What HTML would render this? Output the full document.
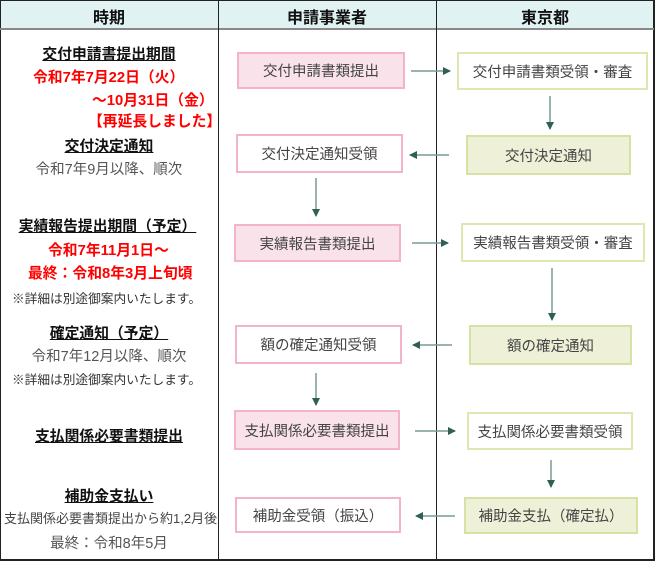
<!DOCTYPE html>
<html><head><meta charset="utf-8"><style>
body{margin:0;width:656px;height:562px;background:#fff;position:relative;overflow:hidden;font-family:"Liberation Sans","Noto Sans CJK JP",sans-serif;}
.a{position:absolute;}
.t{position:absolute;white-space:nowrap;}
.h{font-weight:bold;font-size:16px;color:#111;text-align:center;top:4px;}
.b{position:absolute;box-sizing:border-box;display:flex;align-items:center;justify-content:center;font-size:14.5px;color:#444;border:2px solid;}
.pk{background:#f9e2e9;border-color:#f2b4c6;}
.pw{background:#fff;border-color:#f2b4c6;}
.gw{background:#fff;border-color:#dde8b0;}
.gg{background:#eef1d8;border-color:#d6e2a4;}
.hd{font-weight:bold;font-size:14.8px;color:#111;text-decoration:underline;text-align:center;}
.rd{font-weight:bold;font-size:14.8px;color:#f00;}
.gy{font-size:14.5px;color:#555;text-align:center;}
.sm{font-size:12.7px;color:#333;}
</style></head><body>
<div class="a" style="left:0;top:0;width:654px;height:29px;background:#e1f2f2;"></div>
<div class="a" style="left:0;top:0;width:652px;height:558px;border:2px solid #222;border-width:1px 2px 2px 1px;"></div>
<div class="a" style="left:0;top:28px;width:654px;height:2px;background:#888;"></div>
<div class="a" style="left:218px;top:0;width:1px;height:560px;background:#222;"></div>
<div class="a" style="left:436px;top:0;width:1px;height:560px;background:#222;"></div>
<div class="t h" style="left:0;width:218px;">時期</div>
<div class="t h" style="left:218px;width:218px;">申請事業者</div>
<div class="t h" style="left:436px;width:218px;">東京都</div>

<div class="t hd" style="left:0;width:218px;top:43px;">交付申請書提出期間</div>
<div class="t rd" style="left:33px;top:66px;">令和7年7月22日（火）</div>
<div class="t rd" style="left:92px;top:89px;">～10月31日（金）</div>
<div class="t rd" style="left:88px;top:110px;">【再延長しました】</div>
<div class="t hd" style="left:0;width:218px;top:135px;">交付決定通知</div>
<div class="t gy" style="left:0;width:218px;top:158px;">令和7年9月以降、順次</div>
<div class="t hd" style="left:0;width:215px;top:215px;">実績報告提出期間（予定）</div>
<div class="t rd" style="left:48px;top:239px;">令和7年11月1日～</div>
<div class="t rd" style="left:28px;top:262px;">最終：令和8年3月上旬頃</div>
<div class="t sm" style="left:12px;top:288px;">※詳細は別途御案内いたします。</div>
<div class="t hd" style="left:0;width:218px;top:322px;">確定通知（予定）</div>
<div class="t gy" style="left:0;width:218px;top:345px;">令和7年12月以降、順次</div>
<div class="t sm" style="left:12px;top:369px;">※詳細は別途御案内いたします。</div>
<div class="t hd" style="left:0;width:218px;top:425px;">支払関係必要書類提出</div>
<div class="t hd" style="left:0;width:218px;top:485px;">補助金支払い</div>
<div class="t" style="left:4px;top:508px;font-size:13px;color:#444;">支払関係必要書類提出から約1,2月後</div>
<div class="t gy" style="left:0;width:218px;top:532px;">最終：令和8年5月</div>

<div class="b pk" style="left:237px;top:52px;width:168px;height:37px;">交付申請書類提出</div>
<div class="b gw" style="left:457px;top:52px;width:191px;height:38px;">交付申請書類受領・審査</div>
<div class="b pw" style="left:236px;top:134px;width:167px;height:39px;">交付決定通知受領</div>
<div class="b gg" style="left:466px;top:135px;width:165px;height:40px;">交付決定通知</div>
<div class="b pk" style="left:234px;top:224px;width:167px;height:38px;">実績報告書類提出</div>
<div class="b gw" style="left:461px;top:223px;width:184px;height:39px;">実績報告書類受領・審査</div>
<div class="b pw" style="left:235px;top:325px;width:167px;height:39px;">額の確定通知受領</div>
<div class="b gg" style="left:469px;top:325px;width:163px;height:40px;">額の確定通知</div>
<div class="b pk" style="left:234px;top:410px;width:166px;height:40px;">支払関係必要書類提出</div>
<div class="b gw" style="left:467px;top:412px;width:166px;height:38px;">支払関係必要書類受領</div>
<div class="b pw" style="left:235px;top:497px;width:166px;height:36px;">補助金受領（振込）</div>
<div class="b gg" style="left:464px;top:497px;width:174px;height:37px;">補助金支払（確定払）</div>

<svg class="a" style="left:0;top:0" width="656" height="562">
<defs><marker id="m" markerWidth="8" markerHeight="8" refX="7" refY="4" orient="auto" markerUnits="userSpaceOnUse"><path d="M0,0 L8,4 L0,8z" fill="#2f5f55"/></marker></defs>
<g stroke="#7a9a95" stroke-width="1.5" fill="none" marker-end="url(#m)">
<line x1="411" y1="71" x2="450" y2="71"/>
<line x1="550" y1="96" x2="550" y2="129"/>
<line x1="449" y1="155" x2="410" y2="155"/>
<line x1="316" y1="178" x2="316" y2="216"/>
<line x1="412" y1="243" x2="448" y2="243"/>
<line x1="552" y1="268" x2="552" y2="320"/>
<line x1="452" y1="345" x2="413" y2="345"/>
<line x1="316" y1="373" x2="316" y2="405"/>
<line x1="415" y1="431" x2="455" y2="431"/>
<line x1="551" y1="460" x2="551" y2="487"/>
<line x1="455" y1="516" x2="416" y2="516"/>
</g>
</svg>
</body></html>
